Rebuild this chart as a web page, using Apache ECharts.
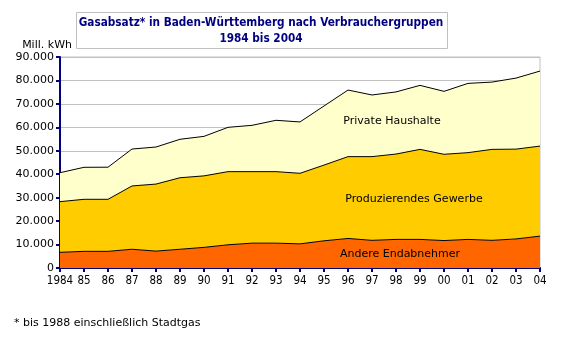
<!DOCTYPE html>
<html><head><meta charset="utf-8">
<script src="https://cdn.jsdelivr.net/npm/echarts@6/dist/echarts.min.js"></script>
<style>html,body{margin:0;padding:0;background:#fff}#c{width:583px;height:337px}</style>
</head><body><div id="c"></div>
<script>
const years = ['1984','85','86','87','88','89','90','91','92','93','94','95','96','97','98','99','00','01','02','03','04'];
const andere = [6700,7100,7100,8000,7200,8000,8800,9900,10600,10600,10300,11600,12600,11800,12200,12200,11700,12200,11800,12400,13600];
const produzierendes = [21600,22200,22200,27000,28600,30500,30500,31200,30500,30500,30100,32300,34900,35700,36400,38400,36800,37000,38800,38300,38400];
const privat = [12350,13650,13700,15750,15800,16400,16850,18900,19750,21900,21900,25200,28400,26300,26500,27300,26850,29550,28700,30300,32000];
const seriesNames = ['Andere Endabnehmer','Produzierendes Gewerbe','Private Haushalte'];
const titleLines = ['Gasabsatz* in Baden-Württemberg nach Verbrauchergruppen','1984 bis 2004'];

const F = 'DejaVu Sans, Verdana, sans-serif';
const FC = '"DejaVu Sans Condensed", "DejaVu Sans", sans-serif';
const chart = echarts.init(document.getElementById('c'));
function fmt(v){return String(v).replace(/\B(?=(\d{3})+(?!\d))/g,'.');}
function mk(name,data,color){
  return {name,type:'line',stack:'t',data,symbol:'none',
    lineStyle:{color:'#000',width:1},areaStyle:{color,opacity:1},itemStyle:{color}};
}
chart.setOption({
  animation:false,
  grid:{left:60,right:43,top:57,bottom:69,show:true,borderColor:'#c0c0c0',borderWidth:1},
  xAxis:{type:'category',data:years,boundaryGap:false,
    axisLine:{lineStyle:{color:'#000080',width:2}},
    axisTick:{alignWithLabel:true,interval:0,length:4,lineStyle:{color:'#000080',width:2}},
    axisLabel:{interval:0,showMinLabel:true,hideOverlap:false,color:'#000',fontFamily:FC,fontSize:11.5,margin:7}},
  yAxis:{type:'value',min:0,max:90000,interval:10000,
    axisLine:{show:true,lineStyle:{color:'#000080',width:2}},
    axisTick:{show:true,length:4,lineStyle:{color:'#000080',width:2}},
    splitLine:{lineStyle:{color:'#c0c0c0',width:1}},
    axisLabel:{color:'#000',fontFamily:F,fontSize:11,margin:6,formatter:fmt}},
  series:[mk(seriesNames[0],andere,'#FF6600'),mk(seriesNames[1],produzierendes,'#FFCC00'),mk(seriesNames[2],privat,'#FFFFCC')],
  graphic:[
    {type:'rect',shape:{x:76.5,y:12.5,width:371,height:36},style:{fill:'#fff',stroke:'#c0c0c0',lineWidth:1},z:10},
    {type:'text',x:261,y:15,style:{text:titleLines.join('\n'),fill:'#000080',font:'bold 11.7px '+FC,align:'center',lineHeight:16},z:11},
    {type:'text',x:72,y:40,style:{text:'Mill. kWh',fill:'#000',font:'11px '+F,align:'right'},z:11},
    {type:'text',x:392,y:116,style:{text:seriesNames[2],fill:'#000',font:'11px '+F,align:'center'},z:11},
    {type:'text',x:414,y:194,style:{text:seriesNames[1],fill:'#000',font:'11px '+F,align:'center'},z:11},
    {type:'text',x:400,y:249,style:{text:seriesNames[0],fill:'#000',font:'11px '+F,align:'center'},z:11},
    {type:'text',x:14,y:318,style:{text:'* bis 1988 einschließlich Stadtgas',fill:'#000',font:'11px '+F},z:11}
  ]
});
</script></body></html>
